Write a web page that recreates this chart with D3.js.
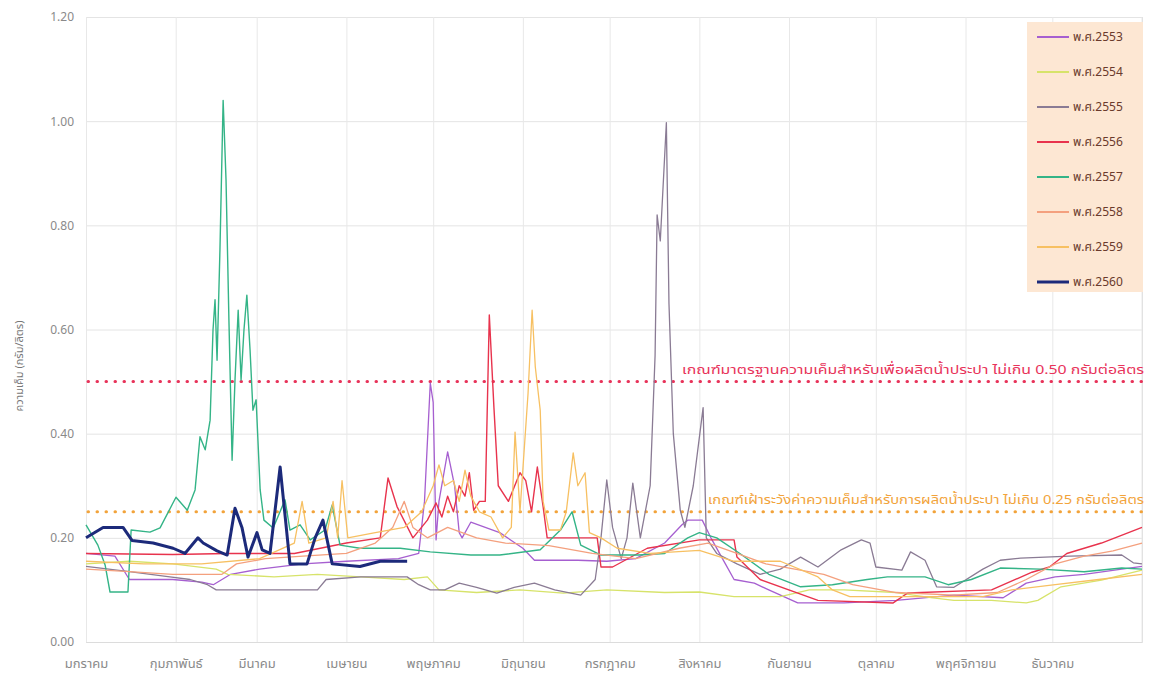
<!DOCTYPE html>
<html>
<head>
<meta charset="utf-8">
<script src="https://cdn.jsdelivr.net/npm/d3@7"></script>
<style>
  body { margin: 0; background: #fff; }
  text { font-family: "Noto Sans Thai", "Tahoma", "Noto Sans", "DejaVu Sans", sans-serif; }
</style>
</head>
<body>
<script>
// month labels and the day of year each month starts on
const months = ["มกราคม", "กุมภาพันธ์", "มีนาคม", "เมษายน", "พฤษภาคม", "มิถุนายน",
  "กรกฎาคม", "สิงหาคม", "กันยายน", "ตุลาคม", "พฤศจิกายน", "ธันวาคม"];
const monthStarts = [0, 31, 59, 90, 120, 151, 181, 212, 243, 273, 304, 334];
const yTicks = [0, 0.2, 0.4, 0.6, 0.8, 1.0, 1.2];

const years = ["พ.ศ.2553", "พ.ศ.2554", "พ.ศ.2555", "พ.ศ.2556", "พ.ศ.2557", "พ.ศ.2558", "พ.ศ.2559", "พ.ศ.2560"];

// [day of year, salinity g/l]
const s2553 = [[0,0.17],[10,0.165],[15,0.12],[30,0.12],[40,0.115],[44,0.11],[50,0.13],[60,0.14],[75,0.15],[90,0.155],[108,0.16],[115,0.17],[117,0.27],[119,0.497],[120,0.46],[121,0.196],[122,0.27],[125,0.365],[127.4,0.30],[129,0.21],[130,0.20],[133,0.23],[138,0.22],[143,0.21],[151,0.18],[155,0.157],[170,0.157],[180,0.155],[190,0.16],[200,0.19],[206,0.225],[208,0.234],[213,0.234],[216,0.20],[221,0.15],[224,0.12],[231,0.113],[236,0.10],[246,0.075],[262,0.075],[280,0.08],[300,0.09],[317,0.085],[325,0.113],[335,0.125],[345,0.13],[358,0.14],[365,0.145]];
const s2554 = [[0,0.15],[15,0.155],[30,0.15],[45,0.14],[49,0.13],[65,0.125],[80,0.13],[95,0.125],[110,0.12],[118,0.125],[122,0.10],[135,0.095],[150,0.10],[165,0.094],[180,0.10],[200,0.095],[212,0.096],[224,0.087],[240,0.087],[250,0.10],[262,0.10],[280,0.095],[292,0.085],[300,0.08],[313,0.08],[325,0.075],[329,0.08],[337,0.106],[351,0.119],[365,0.138]];
const s2555 = [[0,0.145],[15,0.135],[29,0.125],[36,0.12],[42,0.11],[45,0.10],[80,0.10],[83,0.12],[95,0.125],[111,0.125],[115,0.11],[119,0.10],[124,0.10],[129,0.113],[135,0.105],[142,0.094],[148,0.105],[155,0.113],[162,0.10],[171,0.09],[176,0.12],[178,0.20],[180,0.311],[182,0.22],[185,0.16],[187,0.20],[189,0.305],[191.6,0.20],[195,0.30],[196.7,0.55],[197.4,0.82],[198.5,0.77],[200.6,0.997],[201.5,0.65],[203,0.40],[205.4,0.253],[207,0.22],[209.9,0.30],[213.3,0.45],[214.4,0.20],[218,0.17],[225,0.15],[233,0.13],[240,0.14],[247,0.163],[253,0.144],[261,0.177],[268,0.196],[271,0.19],[273,0.144],[282,0.138],[285,0.173],[290,0.157],[294,0.106],[300,0.105],[310,0.14],[316,0.157],[323,0.161],[340,0.165],[358,0.167],[362,0.152],[365,0.15]];
const s2556 = [[0,0.17],[30,0.168],[49,0.17],[72,0.17],[90,0.19],[101.7,0.20],[104.4,0.315],[107.5,0.26],[113,0.20],[118,0.234],[121,0.267],[123,0.24],[125,0.28],[127,0.25],[129,0.30],[131,0.28],[132.5,0.325],[134,0.253],[136,0.27],[138,0.27],[139.4,0.628],[141,0.45],[142.5,0.30],[146,0.27],[150,0.325],[152,0.31],[154,0.25],[156,0.336],[158,0.26],[159.4,0.20],[176.7,0.20],[178,0.144],[182,0.144],[194,0.18],[212,0.196],[224,0.196],[225,0.163],[233,0.12],[253,0.08],[279,0.075],[284,0.094],[313,0.10],[327,0.134],[333,0.144],[339,0.17],[351,0.19],[365,0.22]];
const s2557 = [[0,0.225],[4.1,0.186],[6.6,0.148],[8.3,0.096],[14.5,0.096],[15.6,0.215],[22.1,0.211],[25.6,0.219],[29.7,0.263],[31.1,0.278],[35,0.253],[37.7,0.292],[39.4,0.394],[41.2,0.369],[42.9,0.426],[43.9,0.599],[44.6,0.657],[45.3,0.541],[46.3,0.753],[47.4,1.04],[48.4,0.887],[49.4,0.618],[50.5,0.349],[51.5,0.503],[52.6,0.637],[53.6,0.503],[54.6,0.599],[55.6,0.666],[56.7,0.561],[57.7,0.445],[58.8,0.465],[60.2,0.292],[61.5,0.234],[64.7,0.219],[68.8,0.273],[70.5,0.215],[74,0.225],[77.5,0.196],[82.6,0.215],[85.1,0.263],[87.8,0.186],[94.7,0.18],[108.6,0.18],[119,0.173],[133,0.167],[143,0.167],[157,0.177],[164,0.215],[168,0.25],[171,0.186],[178,0.167],[191,0.167],[200,0.17],[208,0.20],[212,0.21],[218,0.20],[226,0.17],[236,0.13],[247,0.106],[258,0.11],[270,0.12],[277,0.125],[290,0.125],[298,0.11],[306,0.12],[316,0.142],[330,0.14],[345,0.135],[358,0.142],[365,0.14]];
const s2558 = [[0,0.14],[15,0.135],[30,0.13],[47,0.13],[52,0.15],[62,0.16],[75,0.165],[90,0.17],[100,0.19],[106,0.22],[110,0.27],[113,0.22],[118,0.20],[125,0.22],[135,0.20],[145,0.19],[160,0.185],[175,0.17],[190,0.16],[205,0.18],[215,0.19],[225,0.17],[235,0.15],[245,0.14],[255,0.13],[265,0.11],[280,0.095],[300,0.09],[315,0.095],[325,0.12],[335,0.15],[345,0.165],[355,0.175],[365,0.19]];
const s2559 = [[0,0.155],[20,0.15],[40,0.15],[60,0.16],[72,0.19],[74.7,0.27],[77,0.19],[83,0.20],[85.4,0.27],[87,0.20],[88.5,0.31],[90.5,0.20],[100,0.21],[110,0.22],[116,0.25],[120,0.30],[122,0.34],[124,0.30],[127,0.31],[129,0.27],[131,0.33],[133,0.28],[136,0.25],[140,0.24],[144,0.20],[147,0.22],[148.3,0.403],[150,0.25],[152.8,0.478],[154.2,0.637],[155.3,0.528],[157,0.445],[158,0.27],[160,0.215],[164,0.215],[166,0.25],[168.4,0.363],[170,0.30],[172.5,0.325],[174,0.21],[178,0.20],[183.6,0.18],[195,0.17],[212,0.176],[224,0.155],[240,0.155],[253,0.125],[258,0.10],[264,0.087],[290,0.087],[310,0.087],[320,0.10],[335,0.11],[350,0.12],[365,0.13]];
const s2560 = [[0,0.20],[5.9,0.22],[12.8,0.22],[15.9,0.195],[23.2,0.19],[30.1,0.18],[34.2,0.17],[38.7,0.20],[40.5,0.19],[45.3,0.175],[48.8,0.167],[51.5,0.257],[53.9,0.22],[56,0.163],[59.1,0.21],[60.9,0.177],[63.6,0.17],[67.1,0.336],[70.5,0.15],[76.4,0.15],[79.2,0.20],[81.9,0.234],[85.1,0.15],[94.7,0.145],[101.7,0.155],[111,0.155]];

const seriesData = [s2553, s2554, s2555, s2556, s2557, s2558, s2559, s2560];
const colors = ["#a65fd0", "#d7e36a", "#8a7b94", "#e8334d", "#34b487", "#f4a07e", "#f7c062", "#1c2a7a"];
const widths = [1.3, 1.3, 1.3, 1.4, 1.4, 1.3, 1.3, 3];

// standard lines
const thresholds = [0.50, 0.25];
const thresholdColors = ["#e8335a", "#f2a33a"];
const thresholdLabels = [
  "เกณฑ์มาตรฐานความเค็มสำหรับเพื่อผลิตน้ำประปา ไม่เกิน 0.50 กรัมต่อลิตร",
  "เกณฑ์เฝ้าระวังค่าความเค็มสำหรับการผลิตน้ำประปา ไม่เกิน 0.25 กรัมต่อลิตร"
];
const thresholdLabelWidths = [462, 436];

const W = 1163, H = 685;
const margin = { top: 17, right: 21, bottom: 43, left: 86 };
const width = W - margin.left - margin.right;
const height = H - margin.top - margin.bottom;

const svg = d3.select("body")
  .append("svg")
  .attr("width", W)
  .attr("height", H)
  .append("g")
  .attr("transform", `translate(${margin.left}, ${margin.top})`);

const x = d3.scaleLinear().domain([0, 365]).range([0, width]);
const y = d3.scaleLinear().domain([0, 1.2]).range([height, 0]);

// y axis + horizontal grid
const yAxis = svg.append("g")
  .call(d3.axisLeft(y).tickValues(yTicks).tickFormat(d3.format(".2f")).tickSize(-width).tickPadding(12));
yAxis.select(".domain").remove();
yAxis.selectAll("line").attr("stroke", "#e4e4e4");
yAxis.selectAll("text").attr("fill", "#8a8a8a").style("font-size", "12px");

// x axis + vertical grid
const xAxis = svg.append("g")
  .attr("transform", `translate(0, ${height})`)
  .call(d3.axisBottom(x).tickValues(monthStarts).tickFormat((d, i) => months[i]).tickSize(-height).tickPadding(17));
xAxis.select(".domain").attr("stroke", "#dcdcdc");
xAxis.selectAll("line").attr("stroke", "#e8e8e8");
xAxis.selectAll("text").attr("fill", "#8a8a8a").style("font-size", "13px");

svg.append("line")
  .attr("x1", width).attr("x2", width).attr("y1", 0).attr("y2", height)
  .attr("stroke", "#e8e8e8");

// y label
svg.append("text")
  .attr("transform", `translate(${-63}, ${y(0.53)}) rotate(-90)`)
  .attr("text-anchor", "middle")
  .attr("fill", "#777")
  .style("font-size", "11px")
  .text("ความเค็ม (กรัม/ลิตร)");

// threshold dotted lines
thresholds.forEach((t, i) => {
  svg.append("line")
    .attr("x1", 2).attr("x2", width)
    .attr("y1", y(t)).attr("y2", y(t))
    .attr("stroke", thresholdColors[i])
    .attr("stroke-width", 3)
    .attr("stroke-linecap", "round")
    .attr("stroke-dasharray", "0.5,8.5");
  svg.append("text")
    .attr("x", width + 2 - thresholdLabelWidths[i])
    .attr("y", y(t) - 8)
    .attr("textLength", thresholdLabelWidths[i])
    .attr("lengthAdjust", "spacingAndGlyphs")
    .attr("fill", thresholdColors[i])
    .style("font-size", "13px")
    .text(thresholdLabels[i]);
});

// series lines
const line = d3.line()
  .x(d => x(d[0]))
  .y(d => y(d[1]));

seriesData.forEach((s, i) => {
  svg.append("path")
    .datum(s)
    .attr("fill", "none")
    .attr("stroke", colors[i])
    .attr("stroke-width", widths[i])
    .attr("stroke-linejoin", "round")
    .attr("d", line);
});

// legend
const lg = svg.append("g").attr("transform", `translate(${1027 - margin.left}, ${22 - margin.top})`);
lg.append("rect")
  .attr("width", 116).attr("height", 270)
  .attr("fill", "#fde7d3");
years.forEach((yr, i) => {
  const ly = 15 + i * 35;
  lg.append("line")
    .attr("x1", 10).attr("x2", 42)
    .attr("y1", ly).attr("y2", ly)
    .attr("stroke", colors[i])
    .attr("stroke-width", i === 7 ? 3 : 2);
  lg.append("text")
    .attr("x", 46).attr("y", ly + 4)
    .attr("fill", "#6a3a2c")
    .style("font-size", "12px")
    .text(yr);
});
</script>
</body>
</html>
